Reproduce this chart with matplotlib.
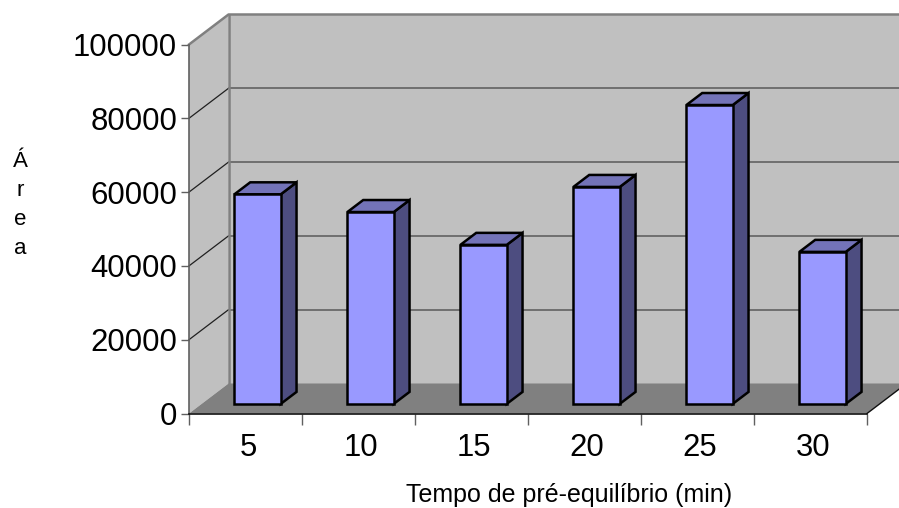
import numpy as np
import matplotlib
matplotlib.use("Agg")
import matplotlib.pyplot as plt
from matplotlib.patches import Polygon

categories = ['5', '10', '15', '20', '25', '30']
areas = [56800, 52000, 43100, 58800, 81000, 41200]
yticks = [0, 20000, 40000, 60000, 80000, 100000]

plt.rcParams['font.family'] = ['Liberation Sans', 'DejaVu Sans']

W, H = 899, 508
x0, x1 = 189, 867
ytop, ybot = 44.5, 413.5

fig = plt.figure(figsize=(W / 100, H / 100), dpi=100)
ax = fig.add_axes([x0 / W, 1 - ybot / H, (x1 - x0) / W, (ybot - ytop) / H])
ax.set_xlim(0, 6)
ax.set_ylim(0, 100000)

# depth shift of the back plane, in data units
depth_x = 39.5 / ((x1 - x0) / 6)
depth_y = 30 / (ybot - ytop) * 100000


def proj(x, y, d):
    # oblique projection: d=0 is the front plane, d=1 the back wall
    return (x + d * depth_x, y + d * depth_y)


def face(pts, color, z=1, ec='none', lw=0):
    ax.add_patch(Polygon(pts, closed=True, facecolor=color, edgecolor=ec,
                         linewidth=lw, zorder=z, clip_on=False,
                         joinstyle='miter'))


# walls and floor
face([proj(0, 0, 1), proj(6, 0, 1), proj(6, 100000, 1), proj(0, 100000, 1)], '#c0c0c0')
face([proj(0, 0, 0), proj(0, 0, 1), proj(0, 100000, 1), proj(0, 100000, 0)], '#c0c0c0')
face([proj(0, 0, 0), proj(6, 0, 0), proj(6, 0, 1), proj(0, 0, 1)], '#808080')

# gridlines on both walls
for v in yticks[1:-1]:
    a, b, c = proj(0, v, 0), proj(0, v, 1), proj(6, v, 1)
    ax.plot([a[0], b[0]], [a[1], b[1]], color='#202020', lw=0.9, zorder=2, clip_on=False)
    ax.plot([b[0], c[0]], [b[1], c[1]], color='#5a5a5a', lw=1.1, zorder=2, clip_on=False)

# wall outline
a, b, c = proj(0, 100000, 0), proj(0, 100000, 1), proj(6, 100000, 1)
ax.plot([a[0], b[0], c[0]], [a[1], b[1], c[1]], color='#808080', lw=1.8, zorder=2, clip_on=False)
a, b = proj(0, 0, 1), proj(0, 100000, 1)
ax.plot([a[0], b[0]], [a[1], b[1]], color='#808080', lw=1.8, zorder=2, clip_on=False)
a, b = proj(6, 0, 0), proj(6, 0, 1)
ax.plot([a[0], b[0]], [a[1], b[1]], color='#101010', lw=1, zorder=2, clip_on=False)

# bars
bar_w = 0.41
d0, d1 = 0.32, 0.72
for i, v in enumerate(areas):
    l = i + 0.5 - bar_w / 2 - 0.005
    r = l + bar_w
    face([proj(r, 0, d0), proj(r, 0, d1), proj(r, v, d1), proj(r, v, d0)],
         '#4d4d80', z=3, ec='black', lw=1.8)
    face([proj(l, v, d0), proj(r, v, d0), proj(r, v, d1), proj(l, v, d1)],
         '#7373b8', z=3, ec='black', lw=1.8)
    face([proj(l, 0, d0), proj(r, 0, d0), proj(r, v, d0), proj(l, v, d0)],
         '#9999ff', z=4, ec='black', lw=1.8)

# axes
for s in ['top', 'right']:
    ax.spines[s].set_visible(False)
ax.spines['left'].set_color('#606060')
ax.spines['left'].set_linewidth(1.2)
ax.spines['bottom'].set_color('#101010')
ax.spines['bottom'].set_linewidth(1.2)

ax.set_yticks(yticks)
ax.set_yticklabels([str(t) for t in yticks])
ax.tick_params(axis='y', labelsize=22.4, length=6, width=1, color='#606060', pad=2.5)
ax.set_xticks(np.arange(7))
ax.set_xticklabels([])
ax.tick_params(axis='x', which='major', length=8, width=1, color='#606060')
ax.set_xticks(np.arange(6) + 0.5 + 0.022, minor=True)
ax.set_xticklabels(categories, minor=True)
ax.tick_params(axis='x', which='minor', length=0, labelsize=22.4, pad=14)

fig.text(569 / W, 1 - 502 / H, 'Tempo de pré-equilíbrio (min)', fontsize=18,
         ha='center', va='baseline')
fig.text(20 / W, 1 - 205 / H, 'Á\nr\ne\na', fontsize=16, ha='center', va='center',
         linespacing=1.5)

fig.savefig('out.png', dpi=100)
